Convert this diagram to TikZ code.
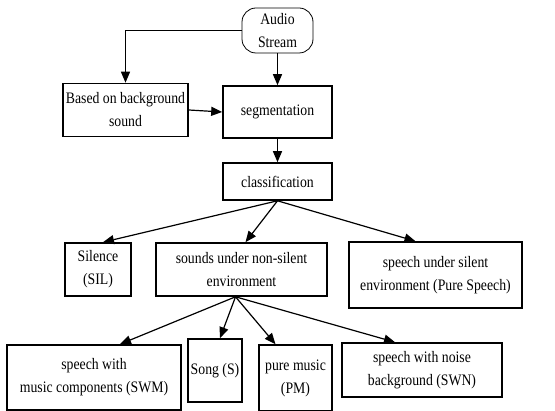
\documentclass[tikz,border=0pt]{standalone}
\usepackage{fontspec}
\setmainfont{Liberation Serif}[FakeStretch=0.86]
\usetikzlibrary{arrows.meta,calc}
\begin{document}
\begin{tikzpicture}[x=1pt,y=-1pt,
  box/.style={draw,line width=1.6pt,rectangle,inner sep=0pt,align=center,font=\fontsize{16}{23}\selectfont},
  arr/.style={line width=1.2pt,-{Triangle[length=11pt,width=9pt]}}]
\useasboundingbox (0,0) rectangle (555,411);
\node[box,rounded corners=14pt,line width=0.8pt,minimum width=71pt,minimum height=45pt] (audio) at (277.5,30.5) {Audio\\Stream};
\node[box,minimum width=125pt,minimum height=53pt] (based) at (125.5,110) {Based on background\\sound};
\node[box,minimum width=109pt,minimum height=52pt] (seg) at (277.5,112) {segmentation};
\node[box,minimum width=109pt,minimum height=37pt] (cls) at (277.5,181.5) {classification};
\node[box,minimum width=66pt,minimum height=53pt] (sil) at (98,269.5) {Silence\\(SIL)};
\node[box,minimum width=171pt,minimum height=53pt] (snd) at (241.5,269.5) {sounds under non-silent\\environment};
\node[box,minimum width=173pt,minimum height=66pt] (pure) at (435.5,275) {speech under silent\\environment (Pure Speech)};
\node[box,minimum width=174pt,minimum height=65pt] (swm) at (94,377.5) {speech with\\music components (SWM)};
\node[box,minimum width=54pt,minimum height=63pt] (song) at (215,370.5) {Song (S)};
\node[box,minimum width=73pt,minimum height=66pt] (pm) at (295.5,378) {pure music\\(PM)};
\node[box,minimum width=160pt,minimum height=54pt] (swn) at (422,370) {speech with noise\\background (SWN)};
\coordinate (sndo) at ($(snd.south)+(-6,0)$);
\draw[arr] (audio.west) -| (based.north);
\draw[arr] (audio.south) -- (seg.north);
\draw[arr] (based.east) -- (seg.west);
\draw[arr] (seg.south) -- (cls.north);
\draw[arr] (cls.south) -- ($(sil.north)+(5,0)$);
\draw[arr] (cls.south) -- ($(snd.north)+(4,0)$);
\draw[arr] (cls.south) -- ($(pure.north)+(-20,0)$);
\draw[arr] (sndo) -- ($(swm.north)+(26,0)$);
\draw[arr] (sndo) -- ($(song.north)+(5,0)$);
\draw[arr] (sndo) -- ($(pm.north)+(-20,0)$);
\draw[arr] (sndo) -- ($(swn.north)+(-27,0)$);
\end{tikzpicture}
\end{document}
